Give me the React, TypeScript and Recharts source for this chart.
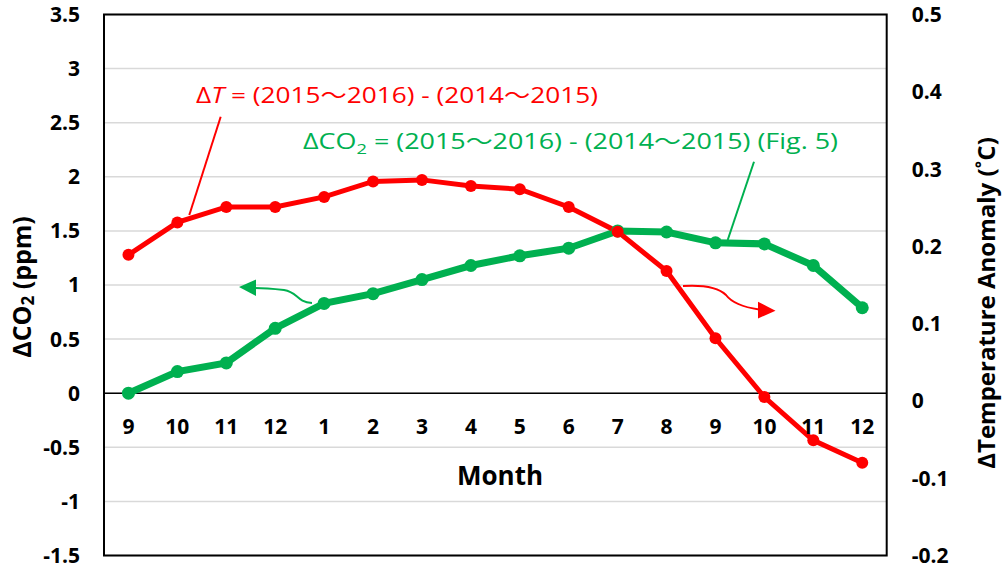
import {
  LineChart,
  Line,
  XAxis,
  YAxis,
  CartesianGrid,
  ReferenceLine,
  ReferenceDot,
  ReferenceArea,
} from "recharts";

// month keys (unique) and the labels shown under the zero line
const PERIODS = [
  "2015-09", "2015-10", "2015-11", "2015-12",
  "2016-01", "2016-02", "2016-03", "2016-04",
  "2016-05", "2016-06", "2016-07", "2016-08",
  "2016-09", "2016-10", "2016-11", "2016-12",
];
const MONTH_LABELS = ["9", "10", "11", "12", "1", "2", "3", "4", "5", "6", "7", "8", "9", "10", "11", "12"];

// ΔCO2 (ppm), left axis
const CO2_DIFF = [0, 0.2, 0.28, 0.6, 0.83, 0.92, 1.05, 1.18, 1.27, 1.34, 1.5, 1.49, 1.39, 1.38, 1.18, 0.79];
// ΔT (°C), right axis
const TEMP_DIFF = [0.189, 0.231, 0.251, 0.251, 0.264, 0.284, 0.286, 0.278, 0.274, 0.251, 0.219, 0.168, 0.081, 0.005, -0.051, -0.08];

const CO2_TICKS = [-1.5, -1, -0.5, 0, 0.5, 1, 1.5, 2, 2.5, 3, 3.5];
const TEMP_TICKS = [-0.2, -0.1, 0, 0.1, 0.2, 0.3, 0.4, 0.5];

const RED = "#FF0000";
const GREEN = "#00B050";
const FONT = "'Open Sans', 'Noto Sans CJK JP', sans-serif";

const tickStyle = { fontSize: 21, fontWeight: 700, fill: "#000", fontFamily: FONT };

export default function App() {
  const data = PERIODS.map((p, i) => ({ period: p, co2: CO2_DIFF[i], temp: TEMP_DIFF[i] }));

  return (
    <div style={{ position: "absolute", left: 0, top: 0, width: 1004, height: 572, background: "#fff", fontFamily: FONT }}>
      <LineChart
        width={1004}
        height={572}
        data={data}
        margin={{ top: 14.5, right: 0, bottom: 16.5, left: 0 }}
        style={{ fontFamily: FONT }}
      >
        <CartesianGrid yAxisId="left" vertical={false} stroke="#D9D9D9" strokeWidth={1.5} />
        <XAxis dataKey="period" scale="band" hide />
        <YAxis
          yAxisId="left"
          width={104}
          domain={[-1.5, 3.5]}
          ticks={CO2_TICKS}
          axisLine={false}
          tickLine={false}
          tickSize={6}
          tickMargin={18}
          tick={tickStyle}
          interval={0}
        />
        <YAxis
          yAxisId="right"
          orientation="right"
          width={117.3}
          domain={[-0.2, 0.5]}
          ticks={TEMP_TICKS}
          axisLine={false}
          tickLine={false}
          tickSize={6}
          tickMargin={19}
          tick={{ ...tickStyle, textAnchor: "start" }}
          interval={0}
        />
        <ReferenceLine yAxisId="left" y={0} stroke="#000" strokeWidth={1.5} />
        <ReferenceArea yAxisId="left" y1={-1.5} y2={3.5} fill="none" fillOpacity={0} stroke="#000" strokeWidth={2} />
        {PERIODS.map((p, i) => (
          <ReferenceDot
            key={p}
            yAxisId="left"
            x={p}
            y={0}
            r={0}
            fill="none"
            stroke="none"
            label={{ value: MONTH_LABELS[i], position: "bottom", offset: 26, ...tickStyle }}
          />
        ))}
        <Line
          yAxisId="left"
          dataKey="co2"
          stroke={GREEN}
          strokeWidth={7}
          dot={{ r: 6.5, fill: GREEN, stroke: GREEN, strokeWidth: 0 }}
          isAnimationActive={false}
        />
        <Line
          yAxisId="right"
          dataKey="temp"
          stroke={RED}
          strokeWidth={5}
          dot={{ r: 6, fill: RED, stroke: RED, strokeWidth: 0 }}
          isAnimationActive={false}
        />
      </LineChart>

      <svg
        width={1004}
        height={572}
        style={{ position: "absolute", left: 0, top: 0, pointerEvents: "none" }}
        fontFamily={FONT}
      >
        {/* axis titles */}
        <text transform="translate(21,287) rotate(-90)" textAnchor="middle" dominantBaseline="central" fontSize={25} fontWeight={700} fill="#000">
          ΔCO<tspan dy={6} fontSize={17}>2</tspan>
          <tspan dy={-6}> (ppm)</tspan>
        </text>
        <text transform="translate(985,303) rotate(-90)" textAnchor="middle" dominantBaseline="central" fontSize={24} fontWeight={700} fill="#000">
          ΔTemperature Anomaly (˚C)
        </text>
        <text x={500} y={485} textAnchor="middle" fontSize={26} fontWeight={700} fill="#000">
          Month
        </text>

        {/* series annotations */}
        <text x={196} y={103} fontSize={22} fill={RED} textLength={402} lengthAdjust="spacingAndGlyphs">
          Δ<tspan fontStyle="italic">T</tspan> = (2015～2016) - (2014～2015)
        </text>
        <line x1={220.7} y1={116.7} x2={189.3} y2={215} stroke={RED} strokeWidth={2} />

        <text x={303} y={149} fontSize={22} fill={GREEN} textLength={535} lengthAdjust="spacingAndGlyphs">
          ΔCO<tspan dy={5} fontSize={15}>2</tspan>
          <tspan dy={-5}> = (2015～2016) - (2014～2015) (Fig. 5)</tspan>
        </text>
        <line x1={754} y1={161.7} x2={727.7} y2={240} stroke={GREEN} strokeWidth={2} />

        {/* axis pointers */}
        <path d="M 312 303 C 296 302 298 292 284 290 C 275 289 266 288 255 288" fill="none" stroke={GREEN} strokeWidth={2} />
        <polygon points="239,287 256,279.5 256,296" fill={GREEN} />
        <path d="M 683 286 C 700 285 718 287 726 295 C 732 303 742 307 759 309.5" fill="none" stroke={RED} strokeWidth={2} />
        <polygon points="775.5,310.7 758,301.7 758,318.5" fill={RED} />
      </svg>
    </div>
  );
}
